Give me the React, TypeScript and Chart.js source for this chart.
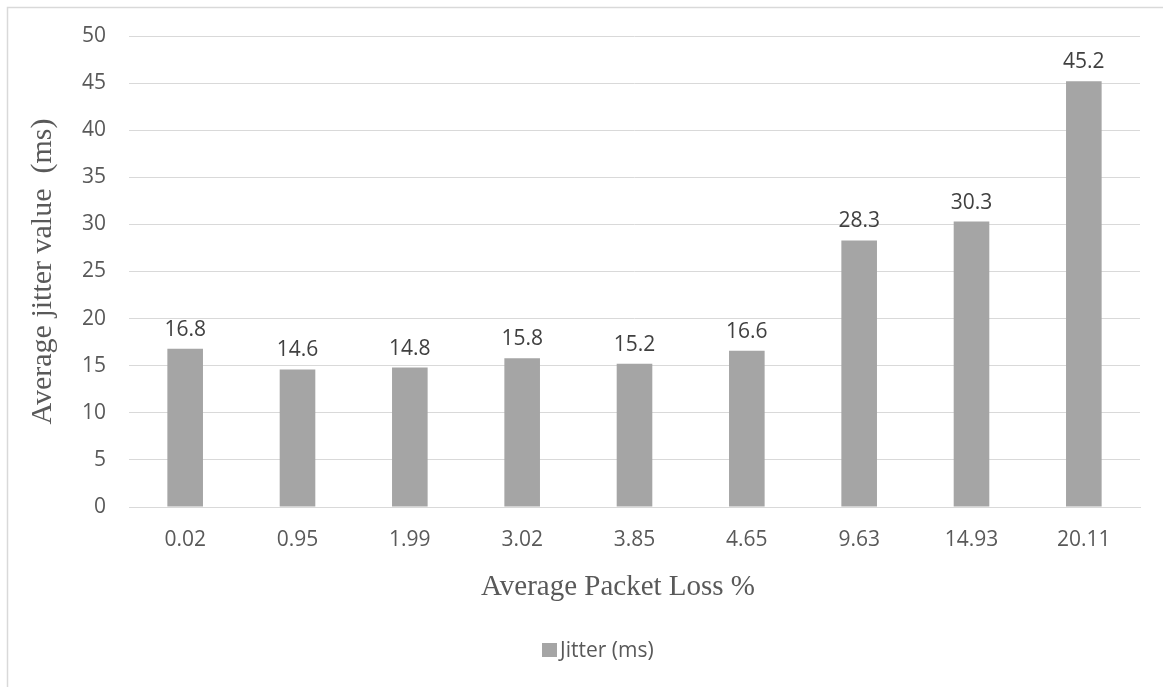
import { useEffect, useRef } from "react";
import { Chart, registerables } from "chart.js";

Chart.register(...registerables);

// Packet loss categories and the measured jitter for each
const packetLoss = ["0.02", "0.95", "1.99", "3.02", "3.85", "4.65", "9.63", "14.93", "20.11"];
const jitterMs = [16.8, 14.6, 14.8, 15.8, 15.2, 16.6, 28.3, 30.3, 45.2];
const seriesName = "Jitter (ms)";
const xTitle = "Average Packet Loss %";
const yTitle = "Average jitter value  (ms)";
const yMin = 0;
const yMax = 50;
const yStep = 5;

const BAR = "#a5a5a5";
const GRID = "#d9d9d9";
const TEXT = "#595959";
const LABEL = "#404040";
const SANS = "'Open Sans', sans-serif";
const SERIF = "'Liberation Serif', 'Times New Roman', serif";

const framePlugin = {
  id: "frame",
  beforeDraw(chart: any) {
    const { ctx, width, height } = chart;
    ctx.save();
    ctx.fillStyle = "#ffffff";
    ctx.fillRect(0, 0, width, height);
    ctx.strokeStyle = GRID;
    ctx.lineWidth = 1.5;
    ctx.beginPath();
    ctx.moveTo(7.5, height + 10);
    ctx.lineTo(7.5, 7.5);
    ctx.lineTo(width + 10, 7.5);
    ctx.stroke();
    ctx.restore();
  },
};

const valueLabelPlugin = {
  id: "valueLabels",
  afterDatasetsDraw(chart: any) {
    const { ctx } = chart;
    const meta = chart.getDatasetMeta(0);
    const values = chart.data.datasets[0].data as number[];
    ctx.save();
    ctx.fillStyle = LABEL;
    ctx.font = `21px ${SANS}`;
    ctx.textAlign = "center";
    ctx.textBaseline = "alphabetic";
    meta.data.forEach((bar: any, i: number) => {
      ctx.fillText(values[i].toFixed(1), bar.x, bar.y - 13);
    });
    ctx.restore();
  },
};

const titlesPlugin = {
  id: "titlesAndLegend",
  afterDraw(chart: any) {
    const { ctx, chartArea } = chart;
    ctx.save();
    ctx.fillStyle = TEXT;
    ctx.textAlign = "center";
    ctx.textBaseline = "alphabetic";

    // vertical axis title
    ctx.font = `30px ${SERIF}`;
    ctx.save();
    ctx.translate(51, (chartArea.top + chartArea.bottom) / 2);
    ctx.rotate(-Math.PI / 2);
    ctx.fillText(yTitle, 0, 0);
    ctx.restore();

    // horizontal axis title
    ctx.font = `29px ${SERIF}`;
    ctx.fillText(xTitle, 618, 595);

    // legend
    ctx.fillStyle = BAR;
    ctx.fillRect(542, 643, 15, 14);
    ctx.fillStyle = TEXT;
    ctx.font = `21px ${SANS}`;
    ctx.textAlign = "left";
    ctx.fillText(seriesName, 560, 657);
    ctx.restore();
  },
};

export default function App() {
  const canvasRef = useRef<HTMLCanvasElement | null>(null);

  useEffect(() => {
    if (!canvasRef.current) return;
    const chart = new Chart(canvasRef.current, {
      type: "bar",
      data: {
        labels: packetLoss,
        datasets: [
          {
            label: seriesName,
            data: jitterMs,
            backgroundColor: BAR,
            borderWidth: 0,
            barPercentage: 0.317,
            categoryPercentage: 1,
          },
        ],
      },
      options: {
        animation: false,
        responsive: false,
        devicePixelRatio: 1,
        layout: { padding: { left: 0, right: 23, top: 36, bottom: 80 } },
        plugins: {
          legend: { display: false },
          tooltip: { enabled: false },
          title: { display: false },
        },
        scales: {
          x: {
            grid: { display: false, drawTicks: false },
            border: { display: true, color: GRID, width: 1 },
            ticks: { color: TEXT, font: { family: SANS, size: 21 }, padding: 20 },
            afterFit(scale: any) {
              scale.height = 100;
            },
          },
          y: {
            min: yMin,
            max: yMax,
            grid: { color: GRID, lineWidth: 1, drawTicks: false },
            border: { display: false },
            ticks: { stepSize: yStep, color: TEXT, font: { family: SANS, size: 21 }, padding: 23 },
            afterFit(scale: any) {
              scale.width = 129;
            },
          },
        },
      },
      plugins: [framePlugin, valueLabelPlugin, titlesPlugin],
    });
    return () => chart.destroy();
  }, []);

  return (
    <div style={{ position: "fixed", left: 0, top: 0, width: 1163, height: 687 }}>
      <canvas ref={canvasRef} width={1163} height={687} />
    </div>
  );
}
